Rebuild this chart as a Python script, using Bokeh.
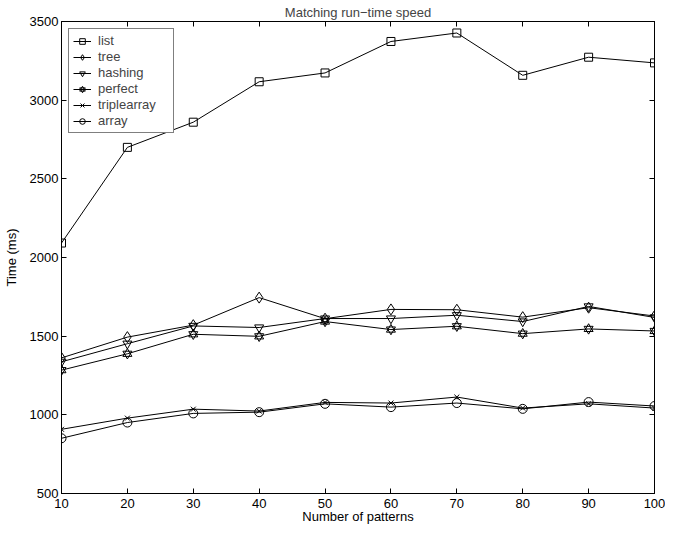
from bokeh.plotting import figure
from bokeh.models import LinearAxis, Legend, LegendItem, FixedTicker
from bokeh.embed import file_html
from bokeh.resources import INLINE

patterns = [10, 20, 30, 40, 50, 60, 70, 80, 90, 100]
list_ms = [2092, 2700, 2860, 3117, 3173, 3373, 3427, 3158, 3273, 3237]
tree_ms = [1362, 1494, 1570, 1745, 1611, 1670, 1668, 1621, 1681, 1628]
hashing_ms = [1337, 1452, 1565, 1555, 1612, 1612, 1633, 1593, 1689, 1619]
perfect_ms = [1284, 1388, 1512, 1499, 1593, 1542, 1563, 1516, 1546, 1533]
triplearray_ms = [908, 979, 1036, 1024, 1079, 1075, 1113, 1043, 1070, 1043]
array_ms = [851, 951, 1009, 1017, 1070, 1049, 1075, 1038, 1081, 1056]
x_ticks = [10, 20, 30, 40, 50, 60, 70, 80, 90, 100]
y_ticks = [500, 1000, 1500, 2000, 2500, 3000, 3500]

FONT = "Liberation Sans"
FS = "13px"

p = figure(width=665, height=527, output_backend="svg", toolbar_location=None,
           x_range=(10, 100), y_range=(500, 3500),
           min_border_left=60, min_border_right=11, min_border_top=21, min_border_bottom=34)
p.title.text = "Matching run\u2212time speed"
p.title.align = "center"
p.title.vertical_align = "top"
p.title.text_font = FONT
p.title.text_font_size = FS
p.title.text_font_style = "normal"
p.title.standoff = 0
p.title.offset = 0
p.xgrid.visible = False
p.ygrid.visible = False
p.outline_line_color = "black"
p.outline_line_width = 1
p.background_fill_color = "white"
p.border_fill_color = "white"

def style_axis(ax, ticks, labels=True):
    ax.ticker = FixedTicker(ticks=ticks)
    ax.major_tick_in = 5
    ax.major_tick_out = 0
    ax.minor_tick_in = 0
    ax.minor_tick_out = 0
    ax.axis_line_color = "black"
    ax.major_tick_line_color = "black"
    ax.major_label_text_font = FONT
    ax.axis_label_text_font = FONT
    ax.axis_label_text_font_size = FS
    ax.axis_label_text_font_style = "normal"
    ax.axis_label_text_color = "black"
    if labels:
        ax.major_label_text_font_size = FS
        ax.major_label_text_color = "black"
    else:
        ax.major_label_text_font_size = "1px"
        ax.major_label_text_color = None
        ax.major_label_standoff = 0

style_axis(p.xaxis[0], x_ticks)
style_axis(p.yaxis[0], y_ticks)
p.xaxis[0].axis_label = "Number of patterns"
p.yaxis[0].axis_label = "Time (ms)"
p.xaxis[0].major_label_standoff = 5
p.xaxis[0].axis_label_standoff = -2
p.yaxis[0].major_label_standoff = 3
p.yaxis[0].axis_label_standoff = 8

top_ax = LinearAxis()
style_axis(top_ax, x_ticks, labels=False)
p.add_layout(top_ax, "above")
right_ax = LinearAxis()
style_axis(right_ax, y_ticks, labels=False)
p.add_layout(right_ax, "right")

items = []
series = [
    ("list", list_ms, ["square"], 8),
    ("tree", tree_ms, ["diamond"], 11),
    ("hashing", hashing_ms, ["inverted_triangle"], 9),
    ("perfect", perfect_ms, ["triangle", "inverted_triangle"], 9),
    ("triplearray", triplearray_ms, ["x"], 7),
    ("array", array_ms, ["circle"], 9),
]
for name, ys, markers, size in series:
    rs = [p.line(patterns, ys, line_color="black", line_width=1)]
    for m in markers:
        rs.append(p.scatter(patterns, ys, marker=m, size=size, fill_color=None,
                            line_color="black", line_width=1))
    items.append(LegendItem(label=name, renderers=rs))

legend = Legend(items=items, location="top_left")
legend.margin = 7
legend.padding = 4
legend.spacing = 1
legend.glyph_height = 14
legend.label_height = 14
legend.glyph_width = 18
legend.label_width = 71
legend.label_standoff = 7
legend.label_text_font = FONT
legend.label_text_font_size = FS
legend.border_line_color = "black"
legend.border_line_width = 1
legend.background_fill_alpha = 1
legend.background_fill_color = "white"
p.add_layout(legend, "center")

open("out.html", "w").write(file_html(p, INLINE))
